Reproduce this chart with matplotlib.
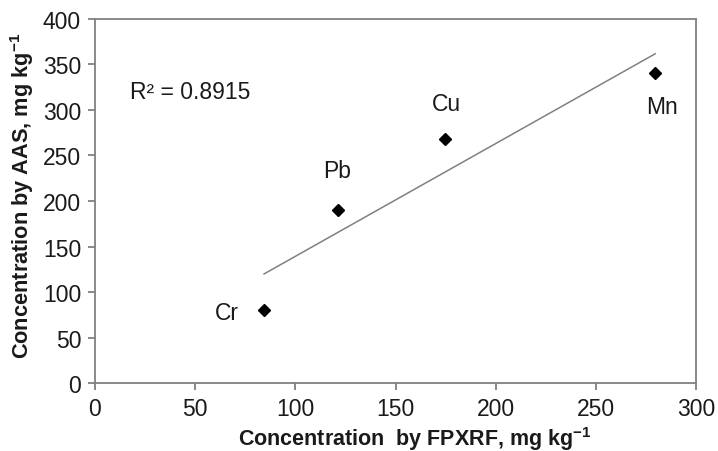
import numpy as np
import matplotlib
matplotlib.use("Agg")
import matplotlib.pyplot as plt

# values
elements = ["Cr", "Pb", "Cu", "Mn"]
fpxrf = [84.4, 121.5, 174.7, 279.6]
aas = [80.5, 190.4, 268.0, 340.3]
r2_text = "R² = 0.8915"

# label offsets (points) from each marker
label_offsets = {"Cr": (-27, -2), "Pb": (-1, 28), "Cu": (1, 26), "Mn": (5, -24)}

plt.rcParams["font.family"] = ["Liberation Sans", "DejaVu Sans"]
plt.rcParams["mathtext.fontset"] = "custom"
plt.rcParams["mathtext.rm"] = "Liberation Sans"
plt.rcParams["mathtext.bf"] = "Liberation Sans:bold"

fig = plt.figure(figsize=(7.18, 4.52), dpi=100)
ax = fig.add_axes([0.1323, 0.1504, 0.8371, 0.8054])

# linear trendline over the data range
slope, intercept = np.polyfit(fpxrf, aas, 1)
xs = np.array([min(fpxrf), max(fpxrf)])
ax.plot(xs, slope * xs + intercept, color="#808080", lw=1.1, zorder=2)

ax.plot(fpxrf, aas, linestyle="none", marker="D", markersize=6.5,
        color="black", zorder=3)

for name, x, y in zip(elements, fpxrf, aas):
    ax.annotate(name, (x, y), xytext=label_offsets[name], textcoords="offset points",
                ha="center", va="center", fontsize=16.5, color="#1a1a1a")

ax.text(17.5, 320, r2_text, ha="left", va="center", fontsize=16.5, color="#1a1a1a")

ax.set_xlim(0, 300)
ax.set_ylim(0, 400)
ax.set_xticks(np.arange(0, 301, 50))
ax.set_yticks(np.arange(0, 401, 50))

for sp in ax.spines.values():
    sp.set_color("#808080")
    sp.set_linewidth(1.3)
ax.tick_params(direction="out", length=5, width=1.3, color="#808080",
               labelsize=16.5, labelcolor="#1a1a1a", pad=5)

ax.set_xlabel(r"Concentration  by FPXRF, mg kg$^{\mathbf{-1}}$", fontsize=15.5,
              fontweight="bold", color="#1a1a1a", labelpad=3)
ax.set_ylabel(r"Concentration by AAS, mg kg$^{\mathbf{-1}}$", fontsize=15.7,
              fontweight="bold", color="#1a1a1a", labelpad=5)
ax.xaxis.label.set_x(0.532)
ax.yaxis.label.set_y(0.516)

fig.savefig("out.png", dpi=100)
